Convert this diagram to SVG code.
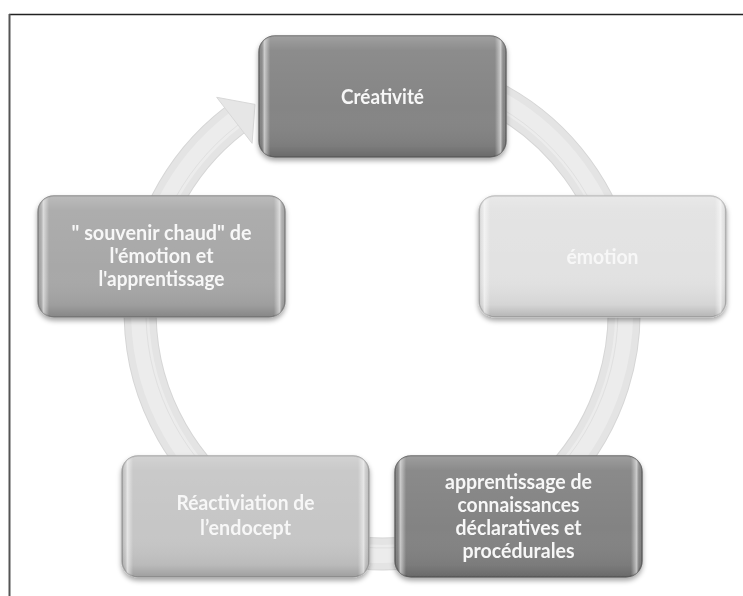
<svg xmlns="http://www.w3.org/2000/svg" width="743" height="596" viewBox="0 0 743 596">
  <defs>
    <filter id="shadow" x="-10%" y="-10%" width="120%" height="130%">
      <feDropShadow dx="0" dy="3" stdDeviation="2.5" flood-color="#000" flood-opacity="0.35"/>
    </filter>
    <linearGradient id="shadeV" x1="0" y1="0" x2="0" y2="1">
      <stop offset="0" stop-color="#fff" stop-opacity="0.22"/>
      <stop offset="0.12" stop-color="#fff" stop-opacity="0.06"/>
      <stop offset="0.6" stop-color="#fff" stop-opacity="0"/>
      <stop offset="0.9" stop-color="#000" stop-opacity="0.06"/>
      <stop offset="1" stop-color="#000" stop-opacity="0.2"/>
    </linearGradient>
    <linearGradient id="shadeH" x1="0" y1="0" x2="1" y2="0">
      <stop offset="0" stop-color="#000" stop-opacity="0.18"/>
      <stop offset="0.012" stop-color="#fff" stop-opacity="0"/>
      <stop offset="0.022" stop-color="#fff" stop-opacity="0.55"/>
      <stop offset="0.045" stop-color="#fff" stop-opacity="0"/>
      <stop offset="0.955" stop-color="#fff" stop-opacity="0"/>
      <stop offset="0.978" stop-color="#fff" stop-opacity="0.55"/>
      <stop offset="0.988" stop-color="#fff" stop-opacity="0"/>
      <stop offset="1" stop-color="#000" stop-opacity="0.18"/>
    </linearGradient>
  </defs>
  <style>
    .box { filter: url(#shadow); }
    .lbl { font-family: Lato, "Open Sans", "Liberation Sans", sans-serif; font-size: 20px; font-weight: bold; fill: #f7f7f7; text-anchor: middle; }
    .ringEdge { fill: none; stroke: #d6d6d6; stroke-width: 33; }
    .ring { fill: none; stroke: #e4e4e4; stroke-width: 31; }
    .ringIn { fill: none; stroke: #ececec; stroke-width: 18; }
    .ringLine { fill: none; stroke: #e0e0e0; stroke-width: 1; }
    .frame { fill: none; }
  </style>

  <g id="frame">
    <line class="frame" x1="9" y1="14.5" x2="743" y2="14.5" stroke-width="1.5" stroke="#222"/>
    <line class="frame" x1="9.5" y1="14" x2="9.5" y2="596" stroke-width="2" stroke="#555"/>
  </g>

  <g id="connectors">
    <path class="ringEdge" d="M 382 70 A 242 242 0 1 1 234.4 120.3"/>
    <path class="ring" d="M 382 70 A 242 242 0 1 1 234.4 120.3"/>
    <path class="ringIn" d="M 382 70 A 242 242 0 1 1 234.4 120.3"/>
    <path class="ringLine" d="M 382 76 A 236 236 0 1 1 238 125"/>
    <polygon points="216.7,97.3 255,104.4 252.1,143.3" fill="#e6e6e6" stroke="#d8d8d8" stroke-width="1"/>
  </g>

  <g id="node-creativite" class="box">
    <rect x="259" y="36" width="247" height="121" rx="16" fill="#858585" stroke="#6e6e6e" stroke-width="1.5"/>
    <rect x="259" y="36" width="247" height="121" rx="16" fill="url(#shadeV)"/>
    <rect x="259" y="36" width="247" height="121" rx="16" fill="url(#shadeH)"/>
    <text class="lbl" x="382.5" y="103.5" textLength="83" lengthAdjust="spacingAndGlyphs">Créativité</text>
  </g>

  <g id="node-emotion" class="box">
    <rect x="479" y="196" width="247" height="121" rx="16" fill="#e2e2e2" stroke="#bdbdbd" stroke-width="1.5"/>
    <rect x="479" y="196" width="247" height="121" rx="16" fill="url(#shadeV)"/>
    <rect x="479" y="196" width="247" height="121" rx="16" fill="url(#shadeH)"/>
    <text class="lbl" x="602.5" y="263.5" textLength="72" lengthAdjust="spacingAndGlyphs">émotion</text>
  </g>

  <g id="node-apprentissage" class="box">
    <rect x="395" y="456" width="247" height="121" rx="16" fill="#838383" stroke="#6a6a6a" stroke-width="1.5"/>
    <rect x="395" y="456" width="247" height="121" rx="16" fill="url(#shadeV)"/>
    <rect x="395" y="456" width="247" height="121" rx="16" fill="url(#shadeH)"/>
    <text class="lbl" x="518.5" y="489" textLength="147" lengthAdjust="spacingAndGlyphs">apprentissage de</text>
    <text class="lbl" x="518.5" y="512" textLength="122" lengthAdjust="spacingAndGlyphs">connaissances</text>
    <text class="lbl" x="518.5" y="535" textLength="126" lengthAdjust="spacingAndGlyphs">déclaratives et</text>
    <text class="lbl" x="518.5" y="558" textLength="112" lengthAdjust="spacingAndGlyphs">procédurales</text>
  </g>

  <g id="node-reactivation" class="box">
    <rect x="122" y="456" width="247" height="121" rx="16" fill="#c6c6c6" stroke="#a8a8a8" stroke-width="1.5"/>
    <rect x="122" y="456" width="247" height="121" rx="16" fill="url(#shadeV)"/>
    <rect x="122" y="456" width="247" height="121" rx="16" fill="url(#shadeH)"/>
    <text class="lbl" x="245.5" y="510" textLength="138" lengthAdjust="spacingAndGlyphs">Réactiviation de</text>
    <text class="lbl" x="245.5" y="535" textLength="91" lengthAdjust="spacingAndGlyphs">l’endocept</text>
  </g>

  <g id="node-souvenir" class="box">
    <rect x="38" y="196" width="247" height="121" rx="16" fill="#a8a8a8" stroke="#8c8c8c" stroke-width="1.5"/>
    <rect x="38" y="196" width="247" height="121" rx="16" fill="url(#shadeV)"/>
    <rect x="38" y="196" width="247" height="121" rx="16" fill="url(#shadeH)"/>
    <text class="lbl" x="161.5" y="240" textLength="180" lengthAdjust="spacingAndGlyphs">" souvenir chaud" de</text>
    <text class="lbl" x="161.5" y="263" textLength="104" lengthAdjust="spacingAndGlyphs">l'émotion et</text>
    <text class="lbl" x="161.5" y="286" textLength="126" lengthAdjust="spacingAndGlyphs">l'apprentissage</text>
  </g>
</svg>
